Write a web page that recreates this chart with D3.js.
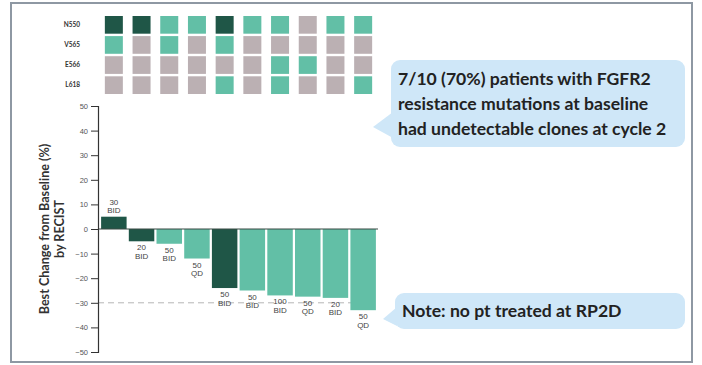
<!DOCTYPE html>
<html>
<head>
<meta charset="utf-8">
<script src="https://cdn.jsdelivr.net/npm/d3@7"></script>
<style>
  html, body { margin: 0; padding: 0; background: #fff; }
  svg { display: block; font-family: "Lato", "Open Sans", sans-serif; }
</style>
</head>
<body>
<div id="chart"></div>
<script>
const width = 702;
const height = 365;

// patients, ordered as in the waterfall
const patients = ["P1", "P2", "P3", "P4", "P5", "P6", "P7", "P8", "P9", "P10"];
const bestChange = [5, -5, -6, -12, -24, -25, -27, -27.5, -28, -33];
const doseLevel = ["30", "20", "50", "50", "50", "50", "100", "50", "20", "50"];
const schedule = ["BID", "BID", "BID", "QD", "BID", "BID", "BID", "QD", "BID", "QD"];
// clone still detectable at cycle 2?
const detectable = [true, true, false, false, true, false, false, false, false, false];

const mutations = ["N550", "V565", "E566", "L618"];
// 0 = not present, 1 = present / cleared, 2 = present / still detectable
const N550 = [2, 2, 1, 1, 2, 1, 1, 0, 1, 1];
const V565 = [1, 0, 1, 0, 1, 0, 0, 0, 0, 0];
const E566 = [0, 0, 0, 0, 0, 0, 1, 1, 0, 0];
const L618 = [0, 0, 0, 0, 1, 0, 1, 0, 0, 1];
const mutationRows = [N550, V565, E566, L618];

const yTicks = [50, 40, 30, 20, 10, 0, -10, -20, -30, -40, -50];
const threshold = -30;

const dark = "#1f5647";
const teal = "#62bfa6";
const grey = "#bbb0b3";
const cellColor = [grey, teal, dark];

const svg = d3.select("#chart").append("svg")
    .attr("width", width).attr("height", height)
    .attr("viewBox", [0, 0, width, height]);

// frame
svg.append("rect")
    .attr("x", 11).attr("y", 3)
    .attr("width", 681).attr("height", 359)
    .attr("fill", "#fff")
    .attr("stroke", "#8e98a3").attr("stroke-width", 2);

const x = d3.scaleBand()
    .domain(patients)
    .range([100, 377])
    .paddingInner(0.08)
    .paddingOuter(0.04);

const y = d3.scaleLinear()
    .domain([-50, 50])
    .range([352, 106]);

const rowY = d3.scaleBand()
    .domain(mutations)
    .range([16, 94])
    .paddingInner(0.12);

// heatmap of resistance mutations
const cells = [];
mutations.forEach((m, i) => {
    mutationRows[i].forEach((v, j) => cells.push({ m, p: patients[j], v }));
});

const cellW = 18;
svg.append("g")
    .selectAll("rect")
    .data(cells)
    .join("rect")
    .attr("x", d => x(d.p) + x.bandwidth() / 2 - cellW / 2)
    .attr("y", d => rowY(d.m))
    .attr("width", cellW)
    .attr("height", rowY.bandwidth())
    .attr("fill", d => cellColor[d.v]);

svg.append("g")
    .selectAll("text")
    .data(mutations)
    .join("text")
    .attr("x", 80)
    .attr("y", d => rowY(d) + rowY.bandwidth() / 2)
    .attr("dy", "0.35em")
    .attr("text-anchor", "end")
    .attr("font-size", 6.5)
    .attr("font-weight", "bold")
    .attr("fill", "#333")
    .text(d => d);

// -30% reference line
svg.append("line")
    .attr("x1", 98).attr("x2", 378)
    .attr("y1", y(threshold)).attr("y2", y(threshold))
    .attr("stroke", "#b5b5b5")
    .attr("stroke-dasharray", "6,4");

// bars
const bars = patients.map((p, i) => ({
    p, v: bestChange[i], dose: doseLevel[i], sched: schedule[i], det: detectable[i]
}));

svg.append("g")
    .selectAll("rect")
    .data(bars)
    .join("rect")
    .attr("x", d => x(d.p))
    .attr("y", d => y(Math.max(0, d.v)))
    .attr("width", x.bandwidth())
    .attr("height", d => Math.abs(y(d.v) - y(0)))
    .attr("fill", d => d.det ? dark : teal);

// zero line
svg.append("line")
    .attr("x1", 98).attr("x2", 378)
    .attr("y1", y(0)).attr("y2", y(0))
    .attr("stroke", "#3a4a45").attr("stroke-width", 1.2);

// dose labels
const lab = svg.append("g")
    .selectAll("text")
    .data(bars)
    .join("text")
    .attr("text-anchor", "middle")
    .attr("font-size", 8)
    .attr("fill", "#444")
    .attr("font-family", "Liberation Sans, sans-serif")
    .attr("x", d => x(d.p) + x.bandwidth() / 2)
    .attr("y", d => d.v > 0 ? y(d.v) - 12 : y(d.v) + 9);
lab.append("tspan").text(d => d.dose);
lab.append("tspan")
    .attr("x", d => x(d.p) + x.bandwidth() / 2)
    .attr("dy", 8.5)
    .text(d => d.sched);

// y axis
const yAxis = d3.axisLeft(y)
    .tickValues(yTicks)
    .tickSize(7)
    .tickPadding(3);

const ax = svg.append("g")
    .attr("transform", "translate(98,0)")
    .call(yAxis);
ax.select(".domain").attr("stroke", "#333").attr("stroke-width", 1.2);
ax.selectAll(".tick line").attr("stroke", "#333");
ax.selectAll(".tick text")
    .attr("font-size", 7.5)
    .attr("fill", "#555")
    .attr("font-family", "Liberation Sans, sans-serif");

// y title
const title = svg.append("text")
    .attr("transform", `translate(49,${y(0)}) rotate(-90)`)
    .attr("text-anchor", "middle")
    .attr("font-size", 12.6)
    .attr("font-weight", "bold")
    .attr("fill", "#333");
title.append("tspan").attr("x", 0).text("Best Change from Baseline (%)");
title.append("tspan").attr("x", 0).attr("dy", 15).text("by RECIST");

// callouts
function callout(x0, y0, w, h, tipX, tipY, tipTop, tipBot, lines, fs, lh) {
    const g = svg.append("g");
    g.append("path")
        .attr("d", `M${x0 + 2},${tipTop} L${tipX},${tipY} L${x0 + 2},${tipBot} Z`)
        .attr("fill", "#cfe7f8");
    g.append("rect")
        .attr("x", x0).attr("y", y0)
        .attr("width", w).attr("height", h)
        .attr("rx", 9)
        .attr("fill", "#cfe7f8");
    const t = g.append("text")
        .attr("font-size", fs)
        .attr("font-weight", "bold")
        .attr("fill", "#222");
    lines.forEach((l, i) => {
        t.append("tspan")
            .attr("x", x0 + 7)
            .attr("y", y0 + lh * 0.5 + (h - lh * lines.length) / 2 + i * lh)
            .attr("dy", "0.35em")
            .text(l);
    });
}

callout(391, 60, 294, 87, 373, 127, 112, 138, [
    "7/10 (70%) patients with FGFR2",
    "resistance mutations at baseline",
    "had undetectable clones at cycle 2"
], 17.6, 25);

callout(395, 293, 290, 36, 383, 319, 307, 326, ["Note: no pt treated at RP2D"], 17.6, 20);
</script>
</body>
</html>
